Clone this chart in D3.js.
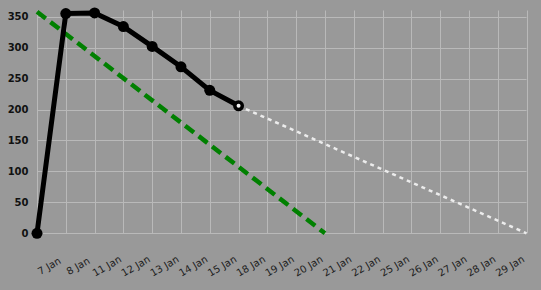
<!DOCTYPE html>
<html><head><meta charset="utf-8">
<script src="https://cdn.jsdelivr.net/npm/d3@7"></script>
<style>html,body{margin:0;padding:0;background:#999999;}svg{display:block;}</style>
</head><body>
<svg id="chart" width="541" height="290"></svg>
<script>
const categories = ["", "7 Jan", "8 Jan", "11 Jan", "12 Jan", "13 Jan", "14 Jan", "15 Jan", "18 Jan", "19 Jan", "20 Jan", "21 Jan", "22 Jan", "25 Jan", "26 Jan", "27 Jan", "28 Jan", "29 Jan"];
const actualValues = [0, 355, 356, 334, 302, 269, 231, 206];
const idealStart = {cat: "", value: 358};
const idealEnd = {cat: "20 Jan", value: 0};
const projectionStart = {cat: "15 Jan", value: 206};
const projectionEnd = {cat: "29 Jan", value: 0};
const yTicks = [0, 50, 100, 150, 200, 250, 300, 350];

const svg = d3.select("#chart");
const plotLeft = 37, plotRight = 526.5, plotTop = 10.5, plotBottom = 233.3;
const x = d3.scalePoint().domain(categories).range([plotLeft, plotRight]);
const y = d3.scaleLinear().domain([0, 360]).range([plotBottom, plotTop]);

svg.append("rect").attr("width", 541).attr("height", 290).attr("fill", "#999999");

// grid
const grid = svg.append("g").attr("stroke", "#b9b9b9").attr("stroke-width", 1);
grid.selectAll("line.v").data(categories).join("line")
  .attr("x1", d => Math.round(x(d)) + 0.5).attr("x2", d => Math.round(x(d)) + 0.5)
  .attr("y1", plotTop).attr("y2", plotBottom);
grid.selectAll("line.h").data(yTicks).join("line")
  .attr("x1", plotLeft).attr("x2", plotRight)
  .attr("y1", d => Math.round(y(d)) + 0.5).attr("y2", d => Math.round(y(d)) + 0.5);

// y axis labels
const yAxis = d3.axisLeft(y).tickValues(yTicks).tickSize(0).tickPadding(0);
const yg = svg.append("g").attr("transform", "translate(28.5,0)").call(yAxis);
yg.select(".domain").remove();
yg.selectAll("text").attr("font-family", "DejaVu Sans").attr("font-weight", "bold")
  .attr("font-size", 10).attr("fill", "#111").attr("x", 0);

// x axis labels
const xAxis = d3.axisBottom(x).tickSize(0).tickPadding(0);
const xg = svg.append("g").call(xAxis);
xg.select(".domain").remove();
xg.selectAll(".tick").attr("transform", null);
xg.selectAll(".tick text")
  .attr("font-family", "DejaVu Sans").attr("font-size", 10).attr("fill", "#1e1e1e")
  .attr("text-anchor", "middle").attr("dy", "0.35em").attr("y", null)
  .attr("transform", d => `translate(${x(d) - 16.5},266) rotate(-30)`);

// ideal line
const line = d3.line().x(d => x(d.cat)).y(d => y(d.value));
svg.append("path").datum([idealStart, idealEnd]).attr("d", line)
  .attr("fill", "none").attr("stroke", "#008000").attr("stroke-width", 4.5)
  .attr("stroke-dasharray", "11,6");

// projection line
svg.append("path").datum([projectionStart, projectionEnd]).attr("d", line)
  .attr("fill", "none").attr("stroke", "#ececec").attr("stroke-width", 2.5)
  .attr("stroke-dasharray", "4,4");

// actual line
const actual = actualValues.map((v, i) => ({cat: categories[i], value: v}));
svg.append("path").datum(actual).attr("d", line)
  .attr("fill", "none").attr("stroke", "#000").attr("stroke-width", 5)
  .attr("stroke-linejoin", "round");
svg.selectAll("circle.pt").data(actual).join("circle")
  .attr("cx", d => x(d.cat)).attr("cy", d => y(d.value)).attr("r", 5.5).attr("fill", "#000");
svg.append("circle").attr("cx", x(projectionStart.cat)).attr("cy", y(projectionStart.value))
  .attr("r", 2).attr("fill", "#f0f0f0");
</script>
</body></html>
